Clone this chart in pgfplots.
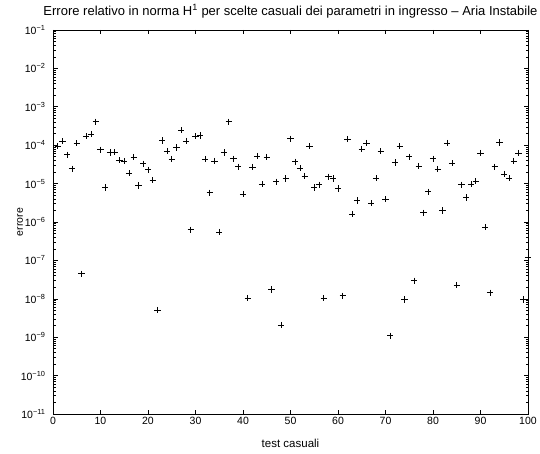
\documentclass[border=0pt]{standalone}
\usepackage{pgfplots}
\pgfplotsset{compat=1.18}
\usepackage{fontspec}
\setmainfont{Liberation Sans}
\begin{document}
\begin{tikzpicture}
\begin{axis}[
  scale only axis,
  width=475pt, height=384pt,
  xmin=0, xmax=100, ymin=1e-11, ymax=1e-1,
  ymode=log,
  font=\fontsize{10.5}{12}\selectfont,
  /pgf/number format/assume math mode=true,
  xtick={0,10,...,100},
  ytick={1e-11,1e-10,1e-9,1e-8,1e-7,1e-6,1e-5,1e-4,1e-3,1e-2,1e-1},
  yticklabels={10\textsuperscript{−11},10\textsuperscript{−10},10\textsuperscript{−9},10\textsuperscript{−8},10\textsuperscript{−7},10\textsuperscript{−6},10\textsuperscript{−5},10\textsuperscript{−4},10\textsuperscript{−3},10\textsuperscript{−2},10\textsuperscript{−1}},
  yticklabel style={xshift=-4pt},
  tick align=inside,
  major tick length=4.5pt,
  minor tick length=2.5pt,
  axis line style={line width=0.9pt},
  tick style={line width=0.6pt, black},
  xlabel={test casuali},
  ylabel={errore},
  title={Errore relativo in norma H\textsuperscript{1} per scelte casuali dei parametri in ingresso – Aria Instabile},
  title style={font=\fontsize{13}{15}\selectfont, at={(axis description cs:0.5,1.0234)}, anchor=base, inner sep=0pt},
  xlabel style={font=\fontsize{11.5}{13}\selectfont, at={(axis description cs:0.5,-0.0755)}, anchor=center},
  ylabel style={font=\fontsize{10.5}{12}\selectfont, at={(axis description cs:-0.0695,0.5)}, anchor=center},
]
\coordinate (SW) at (rel axis cs:0,0);
\addplot[only marks, mark=+, mark size=3.1pt, black, mark options={line width=0.7pt}] coordinates {
(1,9.33e-5) (2,1.26e-4) (3,5.62e-5) (4,2.45e-5) (5,1.12e-4)
(6,4.47e-8) (7,1.70e-4) (8,1.95e-4) (9,4.07e-4) (10,7.59e-5)
(11,7.94e-6) (12,6.46e-5) (13,6.61e-5) (14,4.07e-5) (15,3.80e-5)
(16,1.86e-5) (17,4.90e-5) (18,8.91e-6) (19,3.31e-5) (20,2.29e-5)
(21,1.23e-5) (22,5.13e-9) (23,1.32e-4) (24,7.08e-5) (25,4.37e-5)
(26,8.71e-5) (27,2.45e-4) (28,1.29e-4) (29,6.31e-7) (30,1.70e-4)
(31,1.78e-4) (32,4.37e-5) (33,5.75e-6) (34,3.89e-5) (35,5.50e-7)
(36,6.46e-5) (37,4.07e-4) (38,4.47e-5) (39,2.75e-5) (40,5.37e-6)
(41,1.05e-8) (42,2.69e-5) (43,5.25e-5) (44,9.55e-6) (45,4.90e-5)
(46,1.74e-8) (47,1.12e-5) (48,2.09e-9) (49,1.35e-5) (50,1.48e-4)
(51,3.72e-5) (52,2.51e-5) (53,1.58e-5) (54,9.33e-5) (55,7.94e-6)
(56,9.33e-6) (57,1.05e-8) (58,1.51e-5) (59,1.35e-5) (60,7.41e-6)
(61,1.20e-8) (62,1.45e-4) (63,1.62e-6) (64,3.63e-6) (65,7.94e-5)
(66,1.15e-4) (67,3.09e-6) (68,1.38e-5) (69,6.92e-5) (70,3.89e-6)
(71,1.10e-9) (72,3.55e-5) (73,9.33e-5) (74,9.55e-9) (75,5.01e-5)
(76,2.95e-8) (77,2.88e-5) (78,1.74e-6) (79,6.17e-6) (80,4.47e-5)
(81,2.40e-5) (82,2.00e-6) (83,1.15e-4) (84,3.39e-5) (85,2.29e-8)
(86,9.33e-6) (87,4.37e-6) (88,9.77e-6) (89,1.15e-5) (90,6.31e-5)
(91,7.24e-7) (92,1.45e-8) (93,2.75e-5) (94,1.17e-4) (95,1.78e-5)
(96,1.38e-5) (97,3.89e-5) (98,6.31e-5) (99,9.55e-9) (100,1.23e-7)
};
\end{axis}
\pgfresetboundingbox
\path[use as bounding box] (SW) ++(-53pt,-40pt) rectangle ++(540pt,454pt);
\end{tikzpicture}
\end{document}
